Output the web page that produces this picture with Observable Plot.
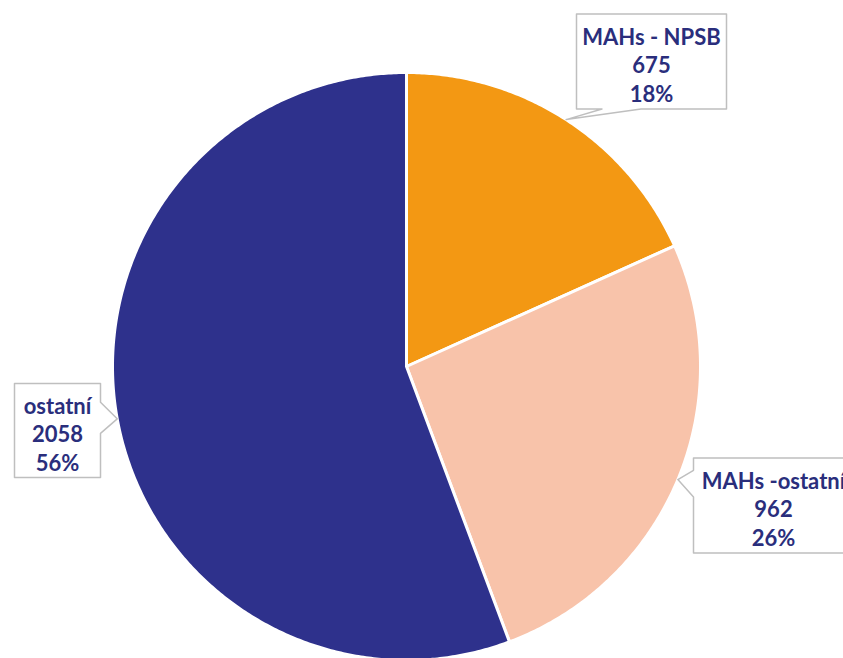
<!DOCTYPE html>
<html>
<head>
<meta charset="utf-8">
<script src="https://cdn.jsdelivr.net/npm/d3@7"></script>
<script src="https://cdn.jsdelivr.net/npm/@observablehq/plot@0.6"></script>
<style>
  html, body { margin: 0; padding: 0; background: #fff; overflow: hidden; }
  #chart svg { display: block; }
</style>
</head>
<body>
<div id="chart"></div>
<script>
// ---- data ----
const categories = ["MAHs - NPSB", "MAHs -ostatní", "ostatní"];
const values = [675, 962, 2058];
const percentLabels = ["18%", "26%", "56%"];
const sliceColors = ["#F39813", "#F8C3AA", "#2E318C"];

// ---- layout (not data) ----
const W = 843, H = 658;
const cx = 406, cy = 366, R = 294;
// label boxes: centre, size, side of the pointer and its base span (fractions along that edge)
const boxes = [
  {cxb: 651, cyb: 61, w: 150, h: 95, side: "bottom", f0: 0.17, f1: 0.43},
  {cxb: 773, cyb: 505, w: 160, h: 95, side: "left", f0: 0.13, f1: 0.41},
  {cxb: 57, cyb: 430, w: 86, h: 94, side: "right", f0: 0.2, f1: 0.53}
];
const textDy = 2.5;

const table = categories.map((name, i) => ({name, value: values[i], pct: percentLabels[i]}));
const arcs = d3.pie().sort(null).value(d => d.value).startAngle(0).endAngle(2 * Math.PI)(table);

const pt = (a, r) => [cx + r * Math.sin(a), cy - r * Math.cos(a)];

// slice polygons
const slicePts = [];
arcs.forEach(a => {
  const name = a.data.name;
  slicePts.push({name, x: cx, y: cy});
  const n = Math.max(2, Math.ceil((a.endAngle - a.startAngle) / (Math.PI / 360)));
  for (let k = 0; k <= n; k++) {
    const ang = a.startAngle + (a.endAngle - a.startAngle) * k / n;
    const [x, y] = pt(ang, R);
    slicePts.push({name, x, y});
  }
});

// callout outlines (box + pointer to the slice's mid-angle on the rim)
const calloutPts = [];
const labelRows = [];
arcs.forEach((a, i) => {
  const b = boxes[i];
  const mid = (a.startAngle + a.endAngle) / 2;
  const [tx, ty] = pt(mid, R);
  const x0 = b.cxb - b.w / 2, x1 = b.cxb + b.w / 2, y0 = b.cyb - b.h / 2, y1 = b.cyb + b.h / 2;
  let poly;
  if (b.side === "bottom") {
    const p0 = x0 + b.w * b.f0, p1 = x0 + b.w * b.f1;
    poly = [[x0, y0], [x1, y0], [x1, y1], [p1, y1], [tx, ty], [p0, y1], [x0, y1]];
  } else if (b.side === "left") {
    const p0 = y0 + b.h * b.f0, p1 = y0 + b.h * b.f1;
    poly = [[x0, y0], [x1, y0], [x1, y1], [x0, y1], [x0, p1], [tx, ty], [x0, p0]];
  } else {
    const p0 = y0 + b.h * b.f0, p1 = y0 + b.h * b.f1;
    poly = [[x0, y0], [x1, y0], [x1, p0], [tx, ty], [x1, p1], [x1, y1], [x0, y1]];
  }
  poly.forEach(([x, y]) => calloutPts.push({id: i, x, y}));
  labelRows.push({x: b.cxb, y: b.cyb + textDy, text: `${a.data.name}\n${a.data.value}\n${a.data.pct}`});
});

const chart = Plot.plot({
  width: W,
  height: H,
  margin: 0,
  style: {background: "#fff"},
  x: {type: "identity", axis: null},
  y: {type: "identity", axis: null},
  color: {domain: categories, range: sliceColors},
  marks: [
    Plot.line(slicePts, {
      x: "x", y: "y", z: "name", fill: "name",
      stroke: "#fff", strokeWidth: 3, strokeLinejoin: "round",
      curve: "linear-closed"
    }),
    Plot.line(calloutPts, {
      x: "x", y: "y", z: "id", fill: "#fff",
      stroke: "#BFBFBF", strokeWidth: 1.5,
      curve: "linear-closed"
    }),
    Plot.text(labelRows, {
      x: "x", y: "y", text: "text",
      fill: "#2A2E7C", fontSize: 22, fontWeight: "bold",
      fontFamily: "Lato, 'Open Sans', sans-serif",
      lineHeight: 1.3, lineAnchor: "middle", textAnchor: "middle"
    })
  ]
});
document.getElementById("chart").appendChild(chart);
</script>
</body>
</html>
